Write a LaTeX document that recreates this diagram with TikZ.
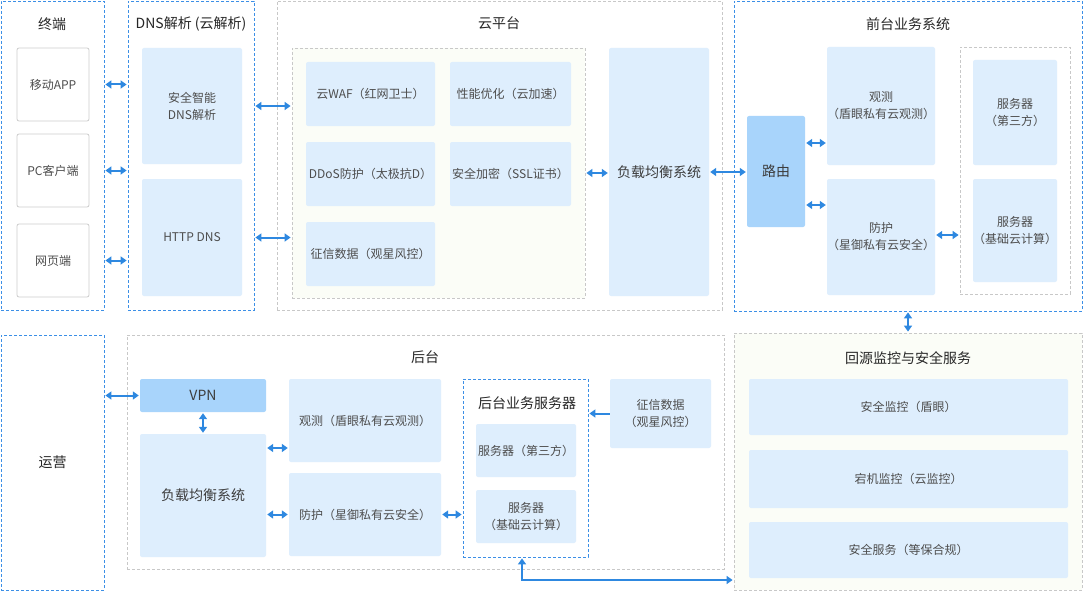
\documentclass[tikz,border=0pt]{standalone}
\usepackage{fontspec}
\setmainfont{Noto Sans CJK SC}
\usetikzlibrary{arrows.meta,calc}
\definecolor{dblue}{HTML}{3C8FE6}
\definecolor{ablue}{HTML}{2E88E0}
\definecolor{lblue}{HTML}{DEEEFD}
\definecolor{mblue}{HTML}{A8D4FB}
\definecolor{lgray}{HTML}{C8C8C8}
\definecolor{tgray}{HTML}{CCCCCC}
\definecolor{pgreen}{HTML}{FBFDF7}
\definecolor{txt}{HTML}{4D4D4D}
\definecolor{ttlc}{HTML}{262626}
\newcommand\bx[7]{\node[#1, minimum width={(#5-#3)*1pt}, minimum height={(#6-#4)*1pt}] (#2) at ({(#3+#5)/2},{(#4+#6)/2}) {#7};}
\begin{document}
\begin{tikzpicture}[x=1pt,y=-1pt,
  grp/.style={draw=dblue, dash pattern=on 3pt off 2pt, line width=0.8pt, inner sep=0pt},
  ggrp/.style={draw=lgray, dash pattern=on 3pt off 2pt, line width=0.8pt, inner sep=0pt},
  card/.style={fill=lblue, rounded corners=2pt, align=center, text=txt, inner sep=0pt,
    font=\fontsize{12}{17}\selectfont},
  bigcard/.style={card, font=\fontsize{14}{17}\selectfont, text=ttlc!90},
  dcard/.style={bigcard, fill=mblue},
  tcard/.style={card, fill=white, draw=tgray, line width=0.8pt},
  ttl/.style={font=\fontsize{14}{17}\selectfont, text=ttlc, inner sep=0pt},
  arr/.style={draw=ablue, line width=2pt, shorten <=1pt, shorten >=1pt,
    {Triangle[length=6pt,width=8pt]}-{Triangle[length=6pt,width=8pt]}},
  sarr/.style={draw=ablue, line width=2pt, shorten >=1pt,
    -{Triangle[length=6pt,width=8pt]}}
]
\useasboundingbox[fill=white] (0,0) rectangle (1083,591);

% containers
\bx{grp}{term}{1}{1}{104}{310}{}
\bx{grp}{dns}{128}{1}{254}{310}{}
\bx{ggrp}{cloud}{277}{1}{722}{310}{}
\bx{ggrp, fill=pgreen}{inner}{292}{48}{585}{298}{}
\bx{grp}{front}{734}{1}{1082}{311}{}
\bx{ggrp}{srvg}{960}{47}{1070}{294}{}
\bx{grp, ttl}{yy}{1}{335}{104}{590}{运营}
\bx{ggrp}{back}{127}{335}{724}{569}{}
\bx{grp}{bsrv}{463}{379}{588}{557}{}
\bx{ggrp, fill=pgreen}{hy}{734}{333}{1082}{590}{}

% titles
\node[ttl] (t1) at (52,24) {终端};
\node[ttl] (t2) at (191,24) {DNS解析 (云解析)};
\node[ttl] (t3) at (499,23) {云平台};
\node[ttl] (t4) at (908,24) {前台业务系统};
\node[ttl] (t5) at (425,357) {后台};
\node[ttl] (t6) at (527,403) {后台业务服务器};
\node[ttl] (t7) at (908,358) {回源监控与安全服务};

% terminal
\bx{tcard}{app}{17}{48}{89}{121}{移动APP}
\bx{tcard}{pc}{17}{134}{89}{207}{PC客户端}
\bx{tcard}{web}{17}{224}{89}{297}{网页端}
% dns
\bx{card}{sdns}{142}{48}{242}{164}{安全智能\\DNS解析}
\bx{card}{hdns}{142}{179}{242}{296}{HTTP DNS}
% cloud
\bx{card}{waf}{306}{62}{435}{126}{云WAF（红网卫士）}
\bx{card}{perf}{450}{62}{571}{126}{性能优化（云加速）}
\bx{card}{ddos}{306}{142}{435}{206}{DDoS防护（太极抗D）}
\bx{card}{ssl}{450}{142}{571}{206}{安全加密（SSL证书）}
\bx{card}{zx}{306}{222}{435}{286}{征信数据（观星风控）}
\bx{bigcard}{lb}{609}{48}{709}{296}{负载均衡系统}
% front
\bx{dcard}{route}{747}{116}{805}{227}{路由}
\bx{card}{obs}{827}{47}{935}{165}{观测\\（盾眼私有云观测）}
\bx{card}{fh}{827}{179}{935}{295}{防护\\（星御私有云安全）}
\bx{card}{s3}{973}{60}{1057}{165}{服务器\\（第三方）}
\bx{card}{scc}{973}{179}{1057}{282}{服务器\\（基础云计算）}
% back
\bx{dcard}{vpn}{140}{379}{266}{412}{VPN}
\bx{bigcard}{blb}{140}{434}{266}{557}{负载均衡系统}
\bx{card}{bobs}{289}{379}{441}{462}{观测（盾眼私有云观测）}
\bx{card}{bfh}{289}{473}{441}{556}{防护（星御私有云安全）}
\bx{card}{b3}{476}{424}{576}{477}{服务器（第三方）}
\bx{card}{bcc}{476}{490}{576}{543}{服务器\\（基础云计算）}
\bx{card}{bzx}{610}{379}{711}{448}{征信数据\\（观星风控）}
% monitor
\bx{card}{m1}{749}{379}{1068}{435}{安全监控（盾眼）}
\bx{card}{m2}{749}{450}{1068}{508}{宕机监控（云监控）}
\bx{card}{m3}{749}{522}{1068}{578}{安全服务（等保合规）}

% connectors
\draw[arr] (app -| term.east) -- (app -| dns.west);
\draw[arr] (pc -| term.east) -- (pc -| dns.west);
\draw[arr] (web -| term.east) -- (web -| dns.west);
\draw[arr] (sdns -| dns.east) -- (sdns -| inner.west);
\draw[arr] (hdns -| dns.east) -- (hdns -| inner.west);
\draw[arr] (inner.east) -- (inner.east -| lb.west);
\draw[arr] (lb.east) -- (lb.east -| route.west);
\draw[arr] ([yshift=28.5pt]route.east) -- ([yshift=28.5pt]route.east -| obs.west);
\draw[arr] ([yshift=-33.5pt]route.east) -- ([yshift=-33.5pt]route.east -| fh.west);
\draw[arr] ([yshift=2pt]fh.east) -- ([yshift=2pt]fh.east -| srvg.west);
\draw[arr] (front.south) -- (hy.north);
\draw[arr] (vpn -| yy.east) -- (vpn.west);
\draw[arr] (vpn.south) -- (blb.north);
\draw[arr] ([yshift=47.5pt]blb.east) -- ([yshift=47.5pt]blb.east -| bobs.west);
\draw[arr] (bfh.west -| blb.east) -- (bfh.west);
\draw[arr] (bfh.east) -- (bfh.east -| bsrv.west);
\draw[sarr] (bzx.west) -- (bzx.west -| bsrv.east);
\draw[arr] ([xshift=-3.5pt]bsrv.south) |- ([yshift=-118.5pt]hy.west);
\end{tikzpicture}
\end{document}
